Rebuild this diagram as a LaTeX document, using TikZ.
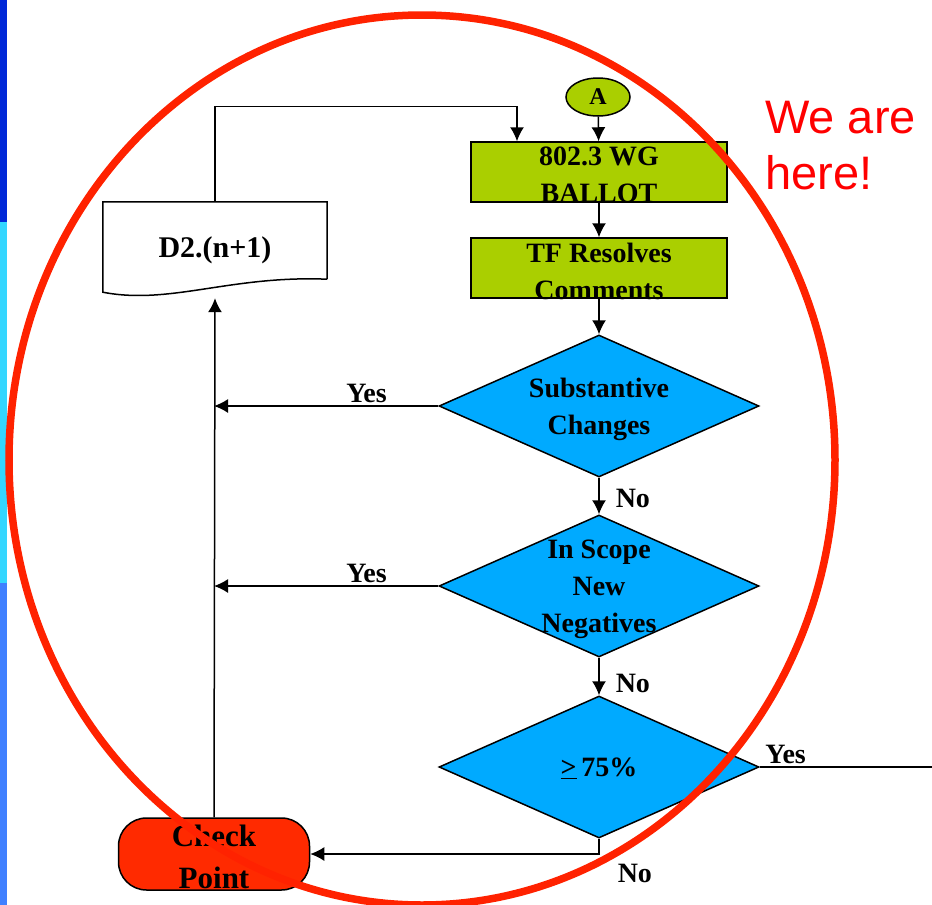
\documentclass[tikz,border=0pt]{standalone}
\usepackage{fontspec}
\setmainfont{Liberation Serif}
\newfontfamily\herefont{Liberation Sans}
\usetikzlibrary{shapes.geometric,shapes.misc,arrows.meta,positioning,calc}

\definecolor{ballotgreen}{RGB}{170,207,0}
\definecolor{decblue}{RGB}{0,170,255}
\definecolor{cpred}{RGB}{255,42,0}
\definecolor{ringred}{RGB}{255,34,0}
\definecolor{bardark}{RGB}{0,40,216}
\definecolor{barcyan}{RGB}{51,214,255}
\definecolor{barlight}{RGB}{64,128,255}

\tikzset{
  flow/.style={line width=1.5pt, -{Latex[length=14pt,width=14pt]}},
  wire/.style={line width=1.5pt},
  procbox/.style={draw, line width=1.5pt, fill=ballotgreen, minimum width=256pt, minimum height=60pt, inner sep=0pt},
  decision/.style={diamond, draw, line width=1.5pt, fill=decblue, minimum width=320pt, minimum height=142pt, inner sep=0pt},
  txt/.style={font=\bfseries\fontsize{28}{37}\selectfont, align=center, inner sep=0pt, yshift=-3pt},
  ans/.style={font=\bfseries\fontsize{28}{30}\selectfont, inner sep=2pt}
}

\begin{document}
\begin{tikzpicture}[x=1pt,y=-1pt]
\useasboundingbox (0,0) rectangle (932,905);
% slide side bar
\fill[bardark] (0,0) rectangle (7,222);
\fill[barcyan] (0,222) rectangle (7,583);
\fill[barlight] (0,583) rectangle (7,905);

% flow chart
\node[ellipse, draw, line width=1.5pt, fill=ballotgreen, minimum width=64pt, minimum height=38pt, inner sep=0pt, font=\bfseries\fontsize{24}{24}\selectfont] (a) at (598,97) {A};
\node[procbox, label={[txt]center:{802.3 WG\\BALLOT}}] (ballot) at (599,172) {};
\node[procbox, label={[txt]center:{TF Resolves\\Comments}}] (resolve) at (599,268) {};
\node[decision, label={[txt]center:{Substantive\\Changes}}] (subst) at (599,406) {};
\node[decision, label={[txt]center:{In Scope\\New\\Negatives}}] (scope) at (599,586) {};
\node[decision, label={[txt,yshift=2pt]center:{\underline{>}\,75\%}}] (pct) at (599,767) {};
\node[rectangle, rounded corners=28pt, draw, line width=1.5pt, fill=cpred, minimum width=191pt, minimum height=72pt, inner sep=0pt, label={[txt,font=\bfseries\fontsize{31}{42}\selectfont]center:{Check\\Point}}] (check) at (214,854) {};

% draft with wavy bottom
\node[minimum width=224pt, minimum height=96pt, inner sep=0pt, font=\bfseries\fontsize{30}{30}\selectfont] (draft) at (215,250) {D2.(n+1)};
\draw[wire] ([yshift=19pt]draft.south east) -- (draft.north east) -- (draft.north west) -- ([yshift=6pt]draft.south west)
  .. controls ([xshift=67pt,yshift=-7pt]draft.south west) and ([xshift=-97pt,yshift=23pt]draft.south east) .. ([yshift=19pt]draft.south east);

% connectors
\draw[flow] (a) -- (ballot);
\draw[flow] (draft.north) |- ([xshift=-82pt,yshift=35pt]ballot.north) -- ([xshift=-82pt]ballot.north);
\draw[flow] (ballot) -- (resolve);
\draw[flow] (resolve) -- (subst);
\draw[flow] (subst) -- node[ans, right=14pt, yshift=-2pt]{No} (scope);
\draw[flow] (scope) -- node[ans, right=14pt, yshift=-7pt]{No} (pct);
\draw[flow] (subst.west) -- (subst.west -| check.north) node[ans, pos=0.32, above]{Yes};
\draw[flow] (scope.west) -- (scope.west -| check.north) node[ans, pos=0.32, above]{Yes};
\coordinate (offpage) at (932,767);
\draw[wire] (pct.east) -- (offpage) node[ans, pos=0.15, above]{Yes};
\draw[flow] (pct.south) |- (check.east) node[ans, pos=0.5, below right=7pt and 16pt]{No};
\draw[flow] (check.north) -- (draft.south);

% we are here
\draw[ringred, line width=7.5pt] (422,460) ellipse [x radius=413pt, y radius=445pt];
\node[anchor=west, inner sep=0pt, align=left, text=red, font=\herefont\fontsize{47}{56}\selectfont] (here) at (765,146) {We are\\here!};
\end{tikzpicture}
\end{document}
